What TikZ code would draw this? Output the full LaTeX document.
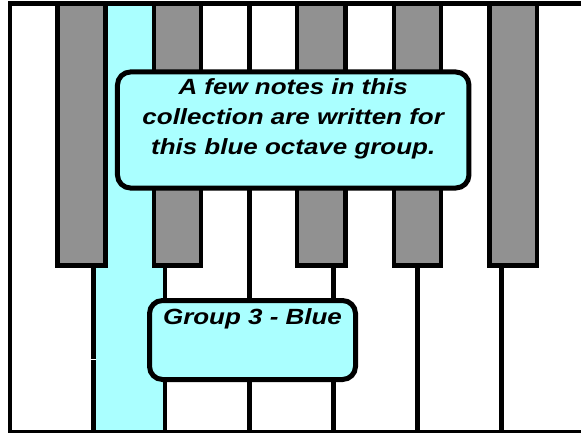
\documentclass[tikz,border=0pt]{standalone}
\usepackage{xcolor}
\usepackage{fontspec}
\newfontfamily\notefont[FakeStretch=1.18]{Liberation Sans}
\definecolor{OctaveFill}{RGB}{170,255,255}
\colorlet{BlackKeyFill}{black!43!white}

\begin{document}
\begin{tikzpicture}[x=1pt, y=-1pt, line width=4.5pt,
    blackkey/.style={draw=black, fill=BlackKeyFill},
    notebox/.style={draw=black, fill=OctaveFill, rounded corners=13pt, line width=5pt},
    notetext/.style={font=\notefont\bfseries\itshape\fontsize{22}{30}\selectfont,
        align=center, inner sep=0pt, outer sep=0pt}]

\useasboundingbox (0, 0) rectangle (581, 433);
\fill[white] (0, 0) rectangle (581, 433);

\coordinate (TopLeft) at (10, 3.7);
\coordinate (BottomLeft) at (10, 432);
\coordinate (TopRight) at (585, 3.7);
\coordinate (BottomRight) at (585, 432);

\fill[OctaveFill] (93.5, 3.7) rectangle (165, 432);

\foreach \x in {93.5, 165, 249.5, 333.5, 417.5, 501.5}
    \draw (\x, 3.7) -- (\x, 432);

\foreach \a/\b in {57.5/105.3, 153.8/201.2, 297/345.5, 394/441, 489.5/537}
    \draw[blackkey] (\a, 3.7) rectangle (\b, 265.5);

\draw (TopRight) -- (TopLeft) -- (BottomLeft) -- (BottomRight);

\draw[white, line width=0.8pt] (91.2, 359.3) -- (95.8, 359.3);

\node[notebox, minimum width=351.5pt, minimum height=116pt] (note) at (293.2, 130) {};
\node[notetext, anchor=north] (notetxt) at (293.2, 79)
    {A few notes in this\\collection are written for\\this blue octave group.};

\node[notebox, minimum width=206pt, minimum height=79pt] (group) at (252.5, 340) {};
\node[notetext, anchor=base] (grouptxt) at (252.5, 324.3) {Group 3 - Blue};

\end{tikzpicture}
\end{document}
